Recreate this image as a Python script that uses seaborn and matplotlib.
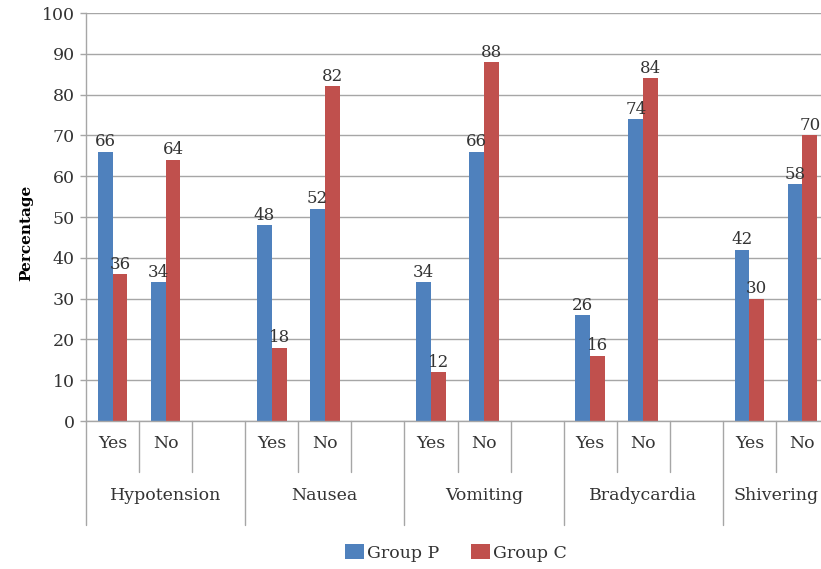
import numpy as np
import pandas as pd
import matplotlib
matplotlib.use("Agg")
import matplotlib.pyplot as plt
import matplotlib.transforms as mtransforms
from matplotlib.patches import Patch
import seaborn as sns

categories = ["Hypotension", "Nausea", "Vomiting", "Bradycardia", "Shivering"]
answers = ["Yes", "No"]
groups = ["Group P", "Group C"]
group_p = [66, 34, 48, 52, 34, 66, 26, 74, 42, 58]
group_c = [36, 64, 18, 82, 12, 88, 16, 84, 30, 70]
yticks = list(range(0, 101, 10))

BLUE = "#4F81BD"
RED = "#C0504D"
GRID = "#A6A6A6"
TXT = "#333333"
FS = 12.5

sns.set_style("white")
plt.rcParams["font.family"] = ["DejaVu Serif", "Liberation Serif"]

# build slot order (Yes, No, blank per category; last category has no blank)
order = []
rows = []
k = 0
for ci, cat in enumerate(categories):
    for ans in answers:
        slot = f"{cat}|{ans}"
        order.append(slot)
        rows.append({"slot": slot, "group": groups[0], "value": group_p[k]})
        rows.append({"slot": slot, "group": groups[1], "value": group_c[k]})
        k += 1
    if ci < len(categories) - 1:
        order.append(f"{cat}|gap")
df = pd.DataFrame(rows)

W, H = 821, 569
fig = plt.figure(figsize=(W / 100, H / 100), dpi=100)
ax_left, ax_right, ax_top, ax_bot = 86, 829, 13, 421
axw = ax_right - ax_left
axh = ax_bot - ax_top
ax = fig.add_axes([ax_left / W, 1 - ax_bot / H, axw / W, axh / H])

sns.barplot(data=df, x="slot", y="value", hue="group", order=order,
            hue_order=groups, palette=[BLUE, RED], width=0.56, saturation=1,
            linewidth=0, ax=ax, legend=False)

ax.set_xlim(-0.5, len(order) - 0.5)
ax.set_ylim(0, 100)
ax.set_yticks(yticks)
ax.set_yticklabels([str(t) for t in yticks], fontsize=FS, color=TXT)
ax.tick_params(axis="y", length=4, width=1, color=GRID, pad=4, left=True)
ax.set_xticks([])
ax.set_xlabel("")
ax.set_ylabel("Percentage", fontsize=11, fontweight="bold", color="black")
ax.yaxis.set_label_coords((33 - ax_left) / axw, (ax_bot - 233) / axh)
ax.yaxis.grid(True, color=GRID, linewidth=1)
ax.set_axisbelow(True)
for s in ["top", "right"]:
    ax.spines[s].set_visible(False)
ax.spines["bottom"].set_color(GRID)
ax.spines["left"].set_color(GRID)
ax.spines["left"].set_linewidth(1)
ax.spines["bottom"].set_linewidth(1)

for cont in ax.containers:
    ax.bar_label(cont, fmt="%d", padding=1, fontsize=12, color=TXT)

# multi-level category axis
def yax(px_below):
    return -px_below / axh

trans = mtransforms.blended_transform_factory(ax.transData, ax.transAxes)
short, long_ = yax(51), yax(104)
for ci, cat in enumerate(categories):
    start = order.index(f"{cat}|Yes")
    n_slots = 3 if ci < len(categories) - 1 else 2
    ax.plot([start - 0.5, start - 0.5], [0, long_], transform=trans, color=GRID,
            lw=1, clip_on=False)
    for j in range(n_slots):
        x = start + j
        if j < len(answers):
            ax.text(x, yax(22), answers[j], transform=trans, ha="center", va="center",
                    fontsize=FS, color=TXT)
        if j < n_slots - 1:
            ax.plot([x + 0.5, x + 0.5], [0, short], transform=trans, color=GRID,
                    lw=1, clip_on=False)
    if ci == len(categories) - 1:
        ax.plot([start + n_slots - 0.5] * 2, [0, long_], transform=trans, color=GRID,
                lw=1, clip_on=False)
    center = start + (n_slots - 1) / 2
    ax.text(center, yax(75), cat, transform=trans, ha="center", va="center",
            fontsize=FS, color=TXT)

handles = [Patch(facecolor=BLUE, edgecolor="none"), Patch(facecolor=RED, edgecolor="none")]
fig.legend(handles, groups, loc="center", bbox_to_anchor=(456 / W, 1 - 553 / H), ncol=2,
           frameon=False, fontsize=FS, handlelength=1.1, handleheight=0.9,
           handletextpad=0.2, columnspacing=1.8, labelcolor=TXT)

fig.savefig("out.png", dpi=100)
